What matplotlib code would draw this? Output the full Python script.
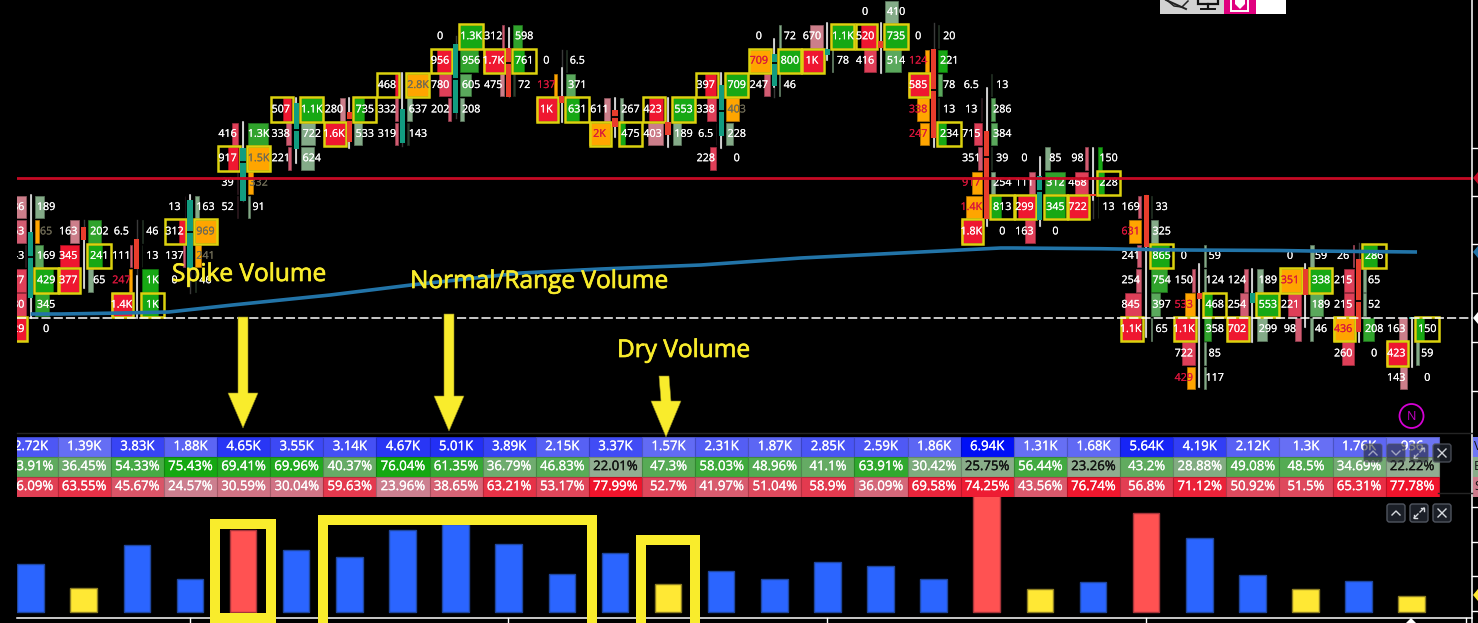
import matplotlib
matplotlib.use("Agg")
import matplotlib.pyplot as plt
import matplotlib.patheffects as pe
from matplotlib.patches import Rectangle, Polygon, Circle, FancyBboxPatch
from matplotlib.colors import to_rgb

W, H = 1478, 623
FONT = ["Open Sans", "DejaVu Sans"]
plt.rcParams["font.family"] = FONT

# ---- footprint candles: one entry per bar, price levels on the chart scale ----
candle_dir = ["u", "d", "d", "u", "u", "u", "d", "u", "u", "d", "d", "d", "d", "u",
              "u", "u", "d", "d", "d", "u", "d", "d", "d", "u", "d", "d", "u"]
body_top = [232, 227, 239, 200, 148, 103, 112, 109, 44, 48, 96, 110, 122, 85,
            54, 49, 41, 49, 131, 176, 194, 195, 293, 293, 269, 259, 317]
body_bot = [298, 240, 269, 269, 201, 149, 142, 143, 113, 97, 103, 127, 135, 136,
            86, 55, 48, 138, 219, 220, 196, 247, 299, 303, 295, 332, 319]
body_gap = [257, None, None, 232, 162, 130, 120, None, 79, 63, None, 117, None, 111,
            63, None, None, 90, 157, 191, None, None, None, None, None, 301, None]
wick_top = [195, 240, 276, 195, 122, 98, 98, 73, 44, 28, 68, 98, 98, 73,
            39, 23, 23, 138, 88, 157, 148, 247, 264, 269, 264, 332, 318]
wick_bot = [318, 288, 318, 200, 148, 163, 148, 109, 44, 48, 122, 137, 147, 148,
            87, 60, 73, 147, 226, 226, 200, 337, 387, 342, 327, 342, 367]
ghost_top = [195, 220, 220, 195, 122, 98, 98, 73, 36, 28, 50, 98, 98, 73,
             39, 23, 23, 23, 88, 157, 148, 195, 264, 269, 264, 243, 318]
ghost_bot = [318, 288, 318, 293, 201, 163, 148, 146, 118, 97, 122, 137, 147, 148,
             97, 60, 73, 147, 226, 226, 218, 337, 387, 342, 327, 342, 367]

# ---- footprint cells: (row, label, fill fraction, shade, imbalance box) ----
sell_cells = [
    [(8, "286", .70, "P", 0), (9, "163", .70, "p", 0), (10, "143", .05, "d", 0),
     (11, "377", .70, "r", 0), (12, "780", .70, "r", 0), (13, "429", .80, "R", 1)],
    [(9, "163", .40, "P", 0), (10, "345", .85, "R", 0), (11, "377", .90, "R", 1)],
    [(9, "6.5", 0, "d", 0), (10, "111", .10, "p", 0), (11, "247", .15, "O", 0),
     (12, "1.4K", .95, "R", 1)],
    [(8, "13", .03, "d", 0), (9, "312", .28, "R", 1), (10, "137", .12, "p", 0), (11, "0", 0, "d", 0)],
    [(5, "416", .27, "r", 0), (6, "917", .48, "R", 1), (7, "39", .04, "d", 0), (8, "52", .04, "d", 0)],
    [(4, "507", .38, "R", 1), (5, "338", .27, "p", 0), (6, "221", .18, "p", 0)],
    [(4, "280", .20, "P", 0), (5, "1.6K", .95, "R", 1)],
    [(3, "468", .13, "R", 1), (4, "332", .12, "p", 0), (5, "319", .12, "p", 0)],
    [(1, "0", 0, "d", 0), (2, "956", .65, "R", 1), (3, "780", .55, "r", 0), (4, "202", .13, "p", 0)],
    [(1, "312", .10, "p", 0), (2, "1.7K", .95, "R", 1), (3, "475", .20, "P", 0)],
    [(2, "0", 0, "d", 0), (3, "137", .15, "O", 0), (4, "1K", .95, "R", 1)],
    [(4, "611", .28, "P", 0), (5, "2K", .95, "O", 1)],
    [(4, "423", .66, "R", 1), (5, "403", .68, "P", 0)],
    [(3, "397", .50, "R", 1), (4, "338", .42, "r", 0), (5, "6.5", .03, "d", 0), (6, "228", .30, "r", 0)],
    [(1, "0", 0, "d", 0), (2, "709", .95, "O", 1), (3, "247", .27, "p", 0)],
    [(1, "670", .58, "P", 0), (2, "1K", .95, "R", 1)],
    [(0, "0", 0, "d", 0), (1, "520", .66, "R", 1), (2, "416", .53, "r", 0)],
    [(1, "0", 0, "d", 0), (2, "124", .20, "O", 0), (3, "585", .95, "R", 1), (4, "338", .55, "O", 0), (5, "247", .40, "O", 0)],
    [(3, "6.5", 0, "d", 0), (4, "13", .03, "d", 0), (5, "715", .38, "r", 0), (6, "351", .20, "p", 0),
     (7, "917", .47, "O", 0), (8, "1.4K", .73, "O", 0), (9, "1.8K", .95, "R", 1)],
    [(6, "0", 0, "d", 0), (7, "111", .30, "p", 0), (8, "299", .80, "R", 1), (9, "163", .45, "r", 0)],
    [(6, "98", .14, "p", 0), (7, "468", .60, "r", 0), (8, "722", .95, "R", 1)],
    [(8, "169", .17, "p", 0), (9, "631", .55, "O", 0), (10, "241", .21, "p", 0), (11, "254", .23, "p", 0),
     (12, "845", .74, "r", 0), (13, "1.1K", .95, "R", 1)],
    [(10, "0", 0, "d", 0), (11, "150", .13, "p", 0), (12, "533", .44, "O", 0), (13, "1.1K", .95, "R", 1),
     (14, "722", .56, "r", 0), (15, "429", .35, "O", 0)],
    [(11, "124", .17, "p", 0), (12, "254", .35, "p", 0), (13, "702", .95, "R", 1)],
    [(10, "0", 0, "d", 0), (11, "351", .95, "O", 1), (12, "221", .56, "r", 0), (13, "98", .26, "p", 0)],
    [(10, "26", .06, "p", 0), (11, "215", .45, "r", 0), (12, "215", .45, "r", 0),
     (13, "436", .95, "O", 1), (14, "260", .53, "r", 0)],
    [(13, "163", .35, "P", 0), (14, "423", .95, "R", 1), (15, "143", .33, "P", 0)],
]
buy_cells = [
    [(8, "189", .36, "l", 0), (9, "65", .14, "Q", 0), (10, "169", .32, "m", 0), (11, "429", .78, "G", 1),
     (12, "345", .60, "g", 0), (13, "0", 0, "e", 0)],
    [(9, "202", .55, "g", 0), (10, "241", .58, "G", 1), (11, "65", .18, "l", 0)],
    [(9, "46", .05, "e", 0), (10, "13", .03, "e", 0), (11, "1K", .72, "G", 0), (12, "1K", .72, "G", 1)],
    [(8, "163", .20, "l", 0), (9, "969", .96, "Q", 1), (10, "241", .26, "Q", 0), (11, "46", .05, "e", 0)],
    [(5, "1.3K", .86, "g", 0), (6, "1.5K", .96, "Q", 1), (7, "332", .22, "Q", 0), (8, "91", .08, "l", 0)],
    [(4, "1.1K", .96, "G", 1), (5, "722", .63, "l", 0), (6, "624", .55, "l", 0)],
    [(4, "735", .45, "G", 1), (5, "533", .33, "l", 0)],
    [(3, "2.8K", .96, "Q", 1), (4, "637", .22, "l", 0), (5, "143", .07, "e", 0)],
    [(1, "1.3K", .96, "G", 1), (2, "956", .75, "g", 0), (3, "605", .45, "m", 0), (4, "208", .15, "l", 0)],
    [(1, "598", .37, "g", 0), (2, "761", .45, "G", 1), (3, "72", .06, "e", 0)],
    [(2, "6.5", .02, "e", 0), (3, "371", .36, "m", 0), (4, "631", .55, "G", 1)],
    [(4, "267", .13, "l", 0), (5, "475", .22, "G", 1)],
    [(4, "553", .96, "G", 1), (5, "189", .34, "l", 0)],
    [(3, "709", .96, "G", 1), (4, "403", .55, "Q", 0), (5, "228", .32, "l", 0), (6, "0", 0, "e", 0)],
    [(1, "72", .10, "l", 0), (2, "800", .96, "G", 1), (3, "46", .06, "l", 0)],
    [(1, "1.1K", .96, "G", 1), (2, "78", .06, "l", 0)],
    [(0, "410", .57, "l", 0), (1, "735", .96, "G", 1), (2, "514", .70, "m", 0)],
    [(1, "20", .03, "e", 0), (2, "221", .38, "G", 0), (3, "78", .14, "m", 0), (4, "13", .03, "e", 0), (5, "234", .32, "G", 1)],
    [(3, "13", .03, "e", 0), (4, "286", .16, "m", 0), (5, "384", .22, "m", 0), (6, "39", .03, "e", 0),
     (7, "254", .14, "l", 0), (8, "813", .42, "G", 1), (9, "0", 0, "e", 0)],
    [(6, "85", .25, "l", 0), (7, "312", .88, "g", 0), (8, "345", .88, "G", 1), (9, "0", 0, "e", 0)],
    [(6, "150", .20, "G", 0), (7, "228", .28, "G", 1), (8, "13", .03, "e", 0)],
    [(8, "33", .05, "e", 0), (9, "325", .30, "l", 0), (10, "865", .80, "G", 1), (11, "754", .70, "g", 0),
     (12, "397", .38, "m", 0), (13, "65", .05, "l", 0)],
    [(10, "59", .07, "l", 0), (11, "124", .11, "l", 0), (12, "468", .36, "G", 1), (13, "358", .30, "g", 0),
     (14, "85", .07, "l", 0), (15, "117", .10, "l", 0)],
    [(11, "189", .28, "l", 0), (12, "553", .96, "G", 1), (13, "299", .42, "l", 0)],
    [(10, "59", .17, "l", 0), (11, "338", .96, "G", 1), (12, "189", .55, "m", 0), (13, "46", .13, "l", 0)],
    [(10, "286", .58, "G", 1), (11, "65", .13, "l", 0), (12, "52", .10, "l", 0), (13, "208", .45, "g", 0), (14, "0", 0, "e", 0)],
    [(13, "150", .32, "G", 1), (14, "59", .13, "l", 0), (15, "0", 0, "e", 0)],
]

# ---- session averages and key levels ----
avg_x = [0, 0.57, 1.7, 2.6, 3.8, 5.64, 7.16, 9.23, 10.74, 12.62, 14.5, 16.38, 18.26, 18.5,
         20.15, 21.65, 23.5, 24.1, 26.1]
avg_y = [314, 314, 313, 312, 305, 295, 285, 273, 269, 265, 258, 253, 248, 248,
         248.7, 250, 250.5, 251, 252]
resistance_level = 178
last_price_level = 318

# ---- statistics table and volume histogram ----
volume_labels = ["2.72K", "1.39K", "3.83K", "1.88K", "4.65K", "3.55K", "3.14K", "4.67K", "5.01K",
                 "3.89K", "2.15K", "3.37K", "1.57K", "2.31K", "1.87K", "2.85K", "2.59K", "1.86K",
                 "6.94K", "1.31K", "1.68K", "5.64K", "4.19K", "2.12K", "1.3K", "1.76K", "936"]
volume_k = [2.72, 1.39, 3.83, 1.88, 4.65, 3.55, 3.14, 4.67, 5.01, 3.89, 2.15, 3.37, 1.57, 2.31,
            1.87, 2.85, 2.59, 1.86, 6.94, 1.31, 1.68, 5.64, 4.19, 2.12, 1.3, 1.76, 0.936]
buy_pct = [43.91, 36.45, 54.33, 75.43, 69.41, 69.96, 40.37, 76.04, 61.35, 36.79, 46.83, 22.01, 47.3,
           58.03, 48.96, 41.1, 63.91, 30.42, 25.75, 56.44, 23.26, 43.2, 28.88, 49.08, 48.5, 34.69, 22.22]
sell_pct = [56.09, 63.55, 45.67, 24.57, 30.59, 30.04, 59.63, 23.96, 38.65, 63.21, 53.17, 77.99, 52.7,
            41.97, 51.04, 58.9, 36.09, 69.58, 74.25, 43.56, 76.74, 56.8, 71.12, 50.92, 51.5, 65.31, 77.78]
volume_class = ["n", "d", "n", "n", "s", "n", "n", "n", "n", "n", "n", "n", "d", "n",
                "n", "n", "n", "n", "s", "d", "n", "s", "n", "n", "d", "n", "d"]

SHADES = {"R": "#ef1730", "r": "#df3f58", "p": "#d25c72", "P": "#cc7e8a",
          "G": "#17a814", "g": "#30a32c", "m": "#5aa85c", "l": "#84ab88",
          "O": "#ffa500", "Q": "#ffa500", "d": "#3a2229", "e": "#2c3f2e"}
TEXT_ON = {"O": "#d9163c", "Q": "#6e6a55"}
CLASS_FILL = {"n": "#2b65ff", "d": "#ffe834", "s": "#ff5252"}
CLASS_EDGE = {"n": "#1f479f", "d": "#8c7d22", "s": "#a5343a"}
MARK_YELLOW = "#f9ec2c"
BOX_YELLOW = "#dcd20e"

COL_PX = 53.12
FIRST_COL_PX = 30.6
LEFT, RIGHT = 17.0, 1471.5


def panel(fig, top, bottom, left=LEFT, right=RIGHT):
    ax = fig.add_axes([left / W, 1 - bottom / H, (right - left) / W, (bottom - top) / H])
    ax.set_axis_off()
    ax.set_xlim((left - FIRST_COL_PX) / COL_PX, (right - FIRST_COL_PX) / COL_PX)
    return ax


def mix(a, b, t):
    t = max(0.0, min(1.0, t))
    ca, cb = to_rgb(a), to_rgb(b)
    return tuple(x + (y - x) * t for x, y in zip(ca, cb))


def darker(c, k=0.72):
    return tuple(v * k for v in to_rgb(c))


def heavy(colour, width=0.2):
    # thickens the regular weight a little, like the platform's hinted labels
    return [pe.withStroke(linewidth=width, foreground=colour)]


fig = plt.figure(figsize=(W / 100, H / 100), dpi=100, facecolor="black")

# ---------------- footprint panel ----------------
main = panel(fig, 0, 433)
main.set_ylim(433, 0)
px = 1 / COL_PX
ROW_H = 24.4


def row_level(r):
    return 12 + ROW_H * r


def draw_cell(ax, col, side, cell):
    row, label, frac, shade, boxed = cell
    y = row_level(row)
    if side == "sell":
        edge, sign, full, box_left, box_w = col - 4.7 * px, -1, 22.0, col - 25 * px, 21.5 * px
    else:
        edge, sign, full, box_left, box_w = col + 4.7 * px, 1, 23.0, col + 3.7 * px, 23.3 * px
    if frac > 0:
        length = frac * full * px
        x0 = edge if sign > 0 else edge - length
        ax.add_patch(Rectangle((x0, y - 11.3), length, 22.6, facecolor=SHADES[shade],
                               edgecolor=darker(SHADES[shade]), linewidth=0.5, zorder=3))
    if boxed:
        ax.add_patch(Rectangle((box_left, y - 12.2), box_w, 24.4, fill=False,
                               edgecolor=BOX_YELLOW, linewidth=1.8, zorder=4))
    colour = TEXT_ON.get(shade, "white")
    ax.text(col + sign * 15.5 * px, y + 0.3, label, color=colour, fontsize=7.7, ha="center",
            va="center", zorder=6, clip_on=True, path_effects=heavy(colour, 0.12))


for j in range(len(candle_dir)):
    main.plot([j, j], [ghost_top[j], ghost_bot[j]], color="#3a3a3a", lw=1, zorder=2)
    main.plot([j, j], [wick_top[j], wick_bot[j]], color="white", lw=1.1, zorder=2.5)
    face = "#129c80" if candle_dir[j] == "u" else "#e83d2c"
    main.add_patch(Rectangle((j - 2.6 * px, body_top[j]), 5.2 * px, body_bot[j] - body_top[j],
                             facecolor=face, edgecolor="none", zorder=5))
    if body_gap[j] is not None:
        main.plot([j - 2.6 * px, j + 2.6 * px], [body_gap[j]] * 2, color="black", lw=1.3, zorder=5.2,
                  solid_capstyle="butt")
    for cell in sell_cells[j]:
        draw_cell(main, j, "sell", cell)
    for cell in buy_cells[j]:
        draw_cell(main, j, "buy", cell)

main.axhline(resistance_level, color="#c60a24", lw=2, zorder=7)
main.axhline(last_price_level, color="white", lw=1.1, dashes=(6, 2), zorder=7)
main.plot(avg_x, avg_y, color="#2274a8", lw=2.6, zorder=8, solid_capstyle="butt")

# ---------------- statistics table ----------------
table = panel(fig, 437, 497)
table.set_ylim(3, 0)
table.set_zorder(3)
for j in range(len(volume_k)):
    vol_c = mix("#6e76f4", "#0010f6", (volume_k[j] - 0.9) / 6.0)
    buy_c = mix("#92ad92", "#14a811", (buy_pct[j] - 22) / 54)
    sell_c = mix("#cc8090", "#f0142c", (sell_pct[j] - 24) / 54)
    for r, (fc, label) in enumerate([(vol_c, volume_labels[j]),
                                     (buy_c, f"{buy_pct[j]:g}%"),
                                     (sell_c, f"{sell_pct[j]:g}%")]):
        table.add_patch(Rectangle((j - 0.49, r), 1, 1, facecolor=fc, edgecolor=darker(fc, 0.8),
                                  linewidth=0.8, zorder=1))
        colour = "#111111" if (r == 1 and buy_pct[j] < 26) else "white"
        table.text(j + 0.01, r + 0.48, label, color=colour, fontsize=9.5, ha="center", va="center",
                   zorder=2, clip_on=True, path_effects=heavy(colour))

# ---------------- volume histogram ----------------
hist = panel(fig, 497, 618)
PX_PER_K = 17.6
hist.set_ylim(-6 / PX_PER_K, 115 / PX_PER_K)
hist.bar(range(len(volume_k)), volume_k, width=0.5,
         color=[CLASS_FILL[c] for c in volume_class],
         edgecolor=[CLASS_EDGE[c] for c in volume_class], linewidth=1)

# ---------------- frame, price scale and overlays, in screen pixels ----------------
over = fig.add_axes([0, 0, 1, 1], facecolor="none")
over.set_axis_off()
over.set_xlim(0, W)
over.set_ylim(H, 0)
over.set_zorder(5)

over.plot([RIGHT, RIGHT], [0, 623], color="white", lw=1.1)
over.plot([LEFT, RIGHT], [618, 618], color="white", lw=1.1)
over.plot([LEFT, RIGHT], [433, 433], color="#242424", lw=1)
over.plot([1438, RIGHT], [493, 493], color="#242424", lw=1)
for y in [148, 196, 244, 293, 342, 391, 507, 542, 576, 611]:
    over.plot([RIGHT, W], [y, y], color="white", lw=1)
for x in [189.6, 508, 827, 1146, 1466]:
    over.plot([x, x], [618, 623], color="white", lw=1)
for y, c in [(178, "#c60a24"), (252, "#2274a8"), (318, "white"), (595, "#ffe834")]:
    over.add_patch(Polygon([(W, y - 6), (W, y + 6), (1473, y)], closed=True, color=c, lw=0))
over.add_patch(Polygon([(1406, 623), (1411, 618), (1416, 623)], closed=True, color="white", lw=0))

# row headers of the statistics table, cut by the window edge
for top, c, label in [(437, "#6e76f4", "V"), (457, "#8aad8a", "B"), (477, "#cc7a8a", "S")]:
    over.add_patch(Rectangle((1473, top), 6, 20, facecolor=c, edgecolor="none"))
    over.text(1474, top + 10, label, color="#111111", fontsize=9, ha="left", va="center", clip_on=True)


# chart buttons
def button(x, y, kind, alpha=1.0):
    over.add_patch(FancyBboxPatch((x + 2, y + 2), 14, 14, boxstyle="round,pad=2,rounding_size=2.5",
                                  facecolor="#1b1f27", edgecolor="#50555f", linewidth=1, alpha=alpha, zorder=6))
    c = "#d8dbe0"

    def seg(xs, ys):
        over.plot([x + 9 + v for v in xs], [y + 9 + v for v in ys], color=c, lw=1, alpha=min(1, alpha + .1), zorder=7)
    if kind == "up":
        seg([-4, 0, 4], [2, -2, 2])
    elif kind == "down":
        seg([-4, 0, 4], [-2, 2, -2])
    elif kind == "x":
        seg([-4, 4], [-4, 4])
        seg([-4, 4], [4, -4])
    else:
        seg([-5, -1], [5, 1])
        seg([-5, -5, -2], [2, 5, 5])
        seg([1, 5], [-1, -5])
        seg([2, 5, 5], [-5, -5, -2])


for bx, kind, a in [(1364, "up", .55), (1387, "down", .55), (1410, "exp", .55), (1433, "x", .85)]:
    button(bx, 444, kind, a)
for bx, kind in [(1387, "up"), (1410, "exp"), (1433, "x")]:
    button(bx, 504, kind)

# session marker
over.add_patch(Circle((1411.5, 416), 12, fill=False, edgecolor="#d400d4", lw=1.3))
over.text(1411.5, 416.5, "N", color="#c800c8", fontsize=9, ha="center", va="center")

# window toolbar
over.add_patch(Rectangle((1160, 0), 64, 14, facecolor="#d2d2d2", edgecolor="none"))
over.add_patch(Rectangle((1224, 0), 32, 14, facecolor="#e0007f", edgecolor="none"))
over.add_patch(Rectangle((1256, 0), 30, 14, facecolor="white", edgecolor="none"))
over.plot([1166, 1186], [0, 9], color="#222222", lw=1.4)
over.plot([1168, 1174, 1182, 1188], [1, 6, 7, 1], color="#222222", lw=1.1)
over.add_patch(Rectangle((1198, -3), 20, 7, fill=False, edgecolor="#111111", lw=1.6))
over.plot([1208, 1208], [4, 8], color="#111111", lw=1.6)
over.plot([1201, 1215], [9, 9], color="#111111", lw=1.4)
over.add_patch(Rectangle((1231, -2), 17, 13, fill=False, edgecolor="white", lw=1.4))
over.add_patch(Polygon([(1235, 0), (1245, 0), (1245, 4), (1240, 9), (1235, 4)], closed=True, color="white", lw=0))

# volume study call-outs
for txt, x, y in [("Spike Volume", 172, 275), ("Normal/Range Volume", 410, 282), ("Dry Volume", 617, 351)]:
    over.text(x, y, txt, color=MARK_YELLOW, fontsize=17.6, ha="left", va="center", zorder=9,
              path_effects=heavy(MARK_YELLOW, 0.5))


def arrow(x_top, y_top, x_tip, y_neck, y_tip):
    over.add_patch(Polygon([(x_top - 5, y_top), (x_top + 5, y_top), (x_tip + 5, y_neck),
                            (x_tip + 15, y_neck), (x_tip, y_tip), (x_tip - 15, y_neck),
                            (x_tip - 5, y_neck)], closed=True, facecolor=MARK_YELLOW,
                           edgecolor="#8a8320", lw=0.4, zorder=9))


arrow(243, 317, 243, 393, 428)
arrow(449, 314, 449, 396, 431)
arrow(664, 376, 666, 401, 437)

# highlight frames around the volume bars
for l, r, t, closed_bottom in [(210, 276, 519, True), (318, 597, 515, False), (636, 700, 535, False)]:
    thick = 10
    over.add_patch(Rectangle((l, t), thick, H - t, color=MARK_YELLOW, lw=0, zorder=8))
    over.add_patch(Rectangle((r - thick, t), thick, H - t, color=MARK_YELLOW, lw=0, zorder=8))
    over.add_patch(Rectangle((l, t), r - l, thick, color=MARK_YELLOW, lw=0, zorder=8))
    if closed_bottom:
        over.add_patch(Rectangle((l, 613), r - l, H - 613, color=MARK_YELLOW, lw=0, zorder=8))

fig.savefig("out.png", dpi=100, facecolor="black")
